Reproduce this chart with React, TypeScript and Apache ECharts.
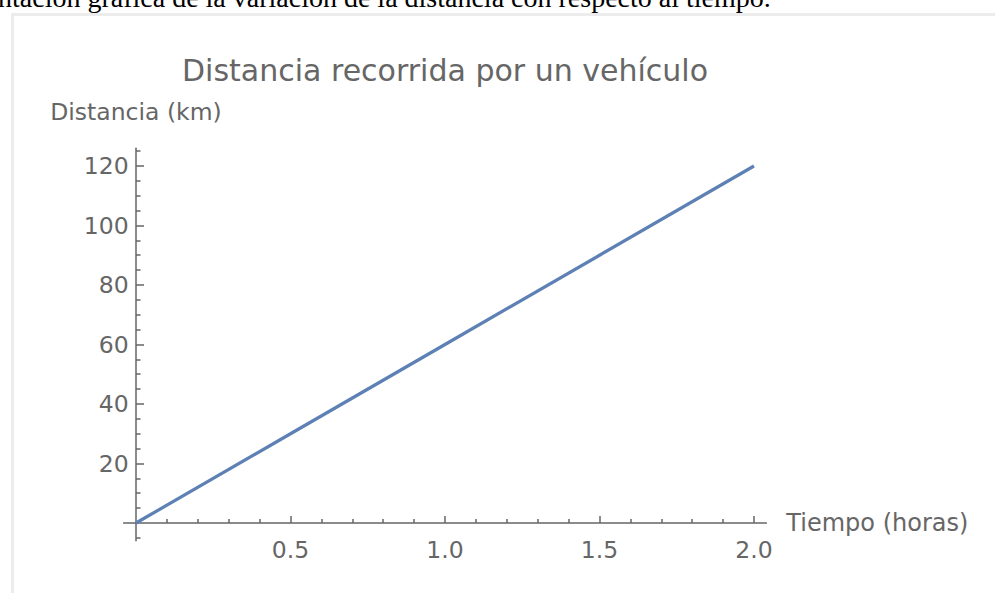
import React, { useEffect, useRef } from "react";
import * as echarts from "echarts";

const tiempo = [0, 0.5, 1, 1.5, 2];
const distancia = [0, 30, 60, 90, 120];

const xMajorTicks = [0.5, 1.0, 1.5, 2.0];
const xMinorTicks = [0.1, 0.2, 0.3, 0.4, 0.6, 0.7, 0.8, 0.9, 1.1, 1.2, 1.3, 1.4, 1.6, 1.7, 1.8, 1.9];
const yMajorTicks = [20, 40, 60, 80, 100, 120];
const yMinorTicks = [-5, 5, 10, 15, 25, 30, 35, 45, 50, 55, 65, 70, 75, 85, 90, 95, 105, 110, 115, 125];

const FONT = "'DejaVu Sans', sans-serif";
const GRAY = "#666666";
const AXIS = "#666666";

export default function App() {
  const ref = useRef<HTMLDivElement>(null);

  useEffect(() => {
    if (!ref.current) return;
    const chart = echarts.init(ref.current, undefined, { renderer: "svg" });
    const xScale = 309;
    const yScale = 2.975;
    const xMin = -0.04, xMax = 2.04;
    const yMin = -6, yMax = 126;
    const x0 = 136, y0 = 523;
    const gridLeft = x0 + xMin * xScale;
    const gridWidth = (xMax - xMin) * xScale;
    const gridTop = y0 - yMax * yScale;
    const gridHeight = (yMax - yMin) * yScale;

    const axisLineStyle = { color: AXIS, width: 1.5 };

    chart.setOption({
      animation: false,
      title: {
        text: "Distancia recorrida por un vehículo",
        left: 440,
        top: 50,
        textAlign: "center",
        textStyle: { fontFamily: FONT, fontSize: 30, fontWeight: "normal", color: GRAY },
      },
      grid: {
        left: gridLeft,
        top: gridTop,
        width: gridWidth,
        height: gridHeight,
        containLabel: false,
        outerBoundsMode: "none",
      },
      xAxis: [
        {
          type: "value",
          min: xMin,
          max: xMax,
          position: "bottom",
          axisLine: { show: true, onZero: true, onZeroAxisIndex: 0, lineStyle: axisLineStyle },
          axisTick: { show: true, inside: true, length: 7, customValues: xMajorTicks, lineStyle: axisLineStyle },
          axisLabel: {
            show: true,
            customValues: xMajorTicks,
            formatter: (v: number) => v.toFixed(1),
            color: GRAY,
            fontFamily: FONT,
            fontSize: 23.5,
            margin: -3,
          },
          splitLine: { show: false },
          name: "Tiempo (horas)",
          nameLocation: "end",
          nameGap: 20,
          nameTextStyle: { color: GRAY, fontFamily: FONT, fontSize: 24 },
        },
        {
          type: "value",
          min: xMin,
          max: xMax,
          position: "bottom",
          axisLine: { show: true, onZero: true, onZeroAxisIndex: 0, lineStyle: { color: AXIS, width: 1.5, opacity: 0 } },
          axisTick: { show: true, inside: true, length: 4, customValues: xMinorTicks, lineStyle: axisLineStyle },
          axisLabel: { show: false },
          splitLine: { show: false },
        },
      ],
      yAxis: [
        {
          type: "value",
          min: yMin,
          max: yMax,
          position: "left",
          axisLine: { show: true, onZero: true, onZeroAxisIndex: 0, lineStyle: axisLineStyle },
          axisTick: { show: true, inside: true, length: 8, customValues: yMajorTicks, lineStyle: axisLineStyle },
          axisLabel: {
            show: true,
            customValues: yMajorTicks,
            color: GRAY,
            fontFamily: FONT,
            fontSize: 23.5,
            margin: -5,
          },
          splitLine: { show: false },
          name: "Distancia (km)",
          nameLocation: "end",
          nameGap: 24,
          nameTextStyle: { color: GRAY, fontFamily: FONT, fontSize: 23.5, align: "center" },
        },
        {
          type: "value",
          min: yMin,
          max: yMax,
          position: "left",
          axisLine: { show: true, onZero: true, onZeroAxisIndex: 0, lineStyle: { color: AXIS, width: 1.5, opacity: 0 } },
          axisTick: { show: true, inside: true, length: 4.5, customValues: yMinorTicks, lineStyle: axisLineStyle },
          axisLabel: { show: false },
          splitLine: { show: false },
        },
      ],
      series: [
        {
          type: "line",
          xAxisIndex: 0,
          yAxisIndex: 0,
          data: tiempo.map((t, i) => [t, distancia[i]]),
          showSymbol: false,
          symbol: "none",
          lineStyle: { color: "#5E81B5", width: 3.2 },
          itemStyle: { color: "#5E81B5" },
        },
      ],
    });
    return () => chart.dispose();
  }, []);

  return (
    <div style={{ position: "absolute", left: 0, top: 0, width: 995, height: 593, overflow: "hidden", background: "#fff" }}>
      <div
        style={{
          position: "absolute",
          left: -2,
          top: -16,
          whiteSpace: "nowrap",
          fontFamily: "'Liberation Serif', 'Times New Roman', serif",
          fontSize: 28,
          lineHeight: "28px",
          color: "#000",
        }}
      >
        ntación gráfica de la variación de la distancia con respecto al tiempo.
      </div>
      <div
        style={{
          position: "absolute",
          left: 11,
          top: 13,
          width: 1000,
          height: 600,
          border: "3px solid #ececec",
          boxSizing: "border-box",
        }}
      />
      <div ref={ref} style={{ position: "absolute", left: 0, top: 0, width: 995, height: 593 }} />
    </div>
  );
}
